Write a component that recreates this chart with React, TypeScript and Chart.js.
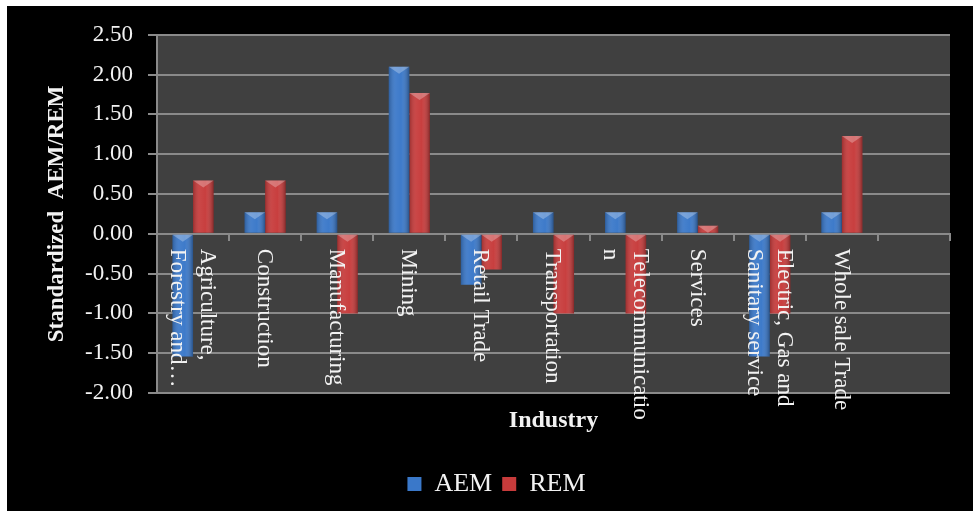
import React, { useEffect, useRef } from "react";
import { Chart, registerables } from "chart.js";

Chart.register(...registerables);

const categoryLines: string[][] = [
  ["Agriculture,", "Forestry and…"],
  ["Construction"],
  ["Manufacturing"],
  ["Mining"],
  ["Retail Trade"],
  ["Transportation"],
  ["Telecommunicatio", "n"],
  ["Services"],
  ["Electric, Gas and", "Sanitary service"],
  ["Whole sale Trade"],
  [""],
];

const aemValues: (number | null)[] = [-1.54, 0.27, 0.27, 2.1, -0.64, 0.27, 0.27, 0.27, -1.54, 0.27, null];
const remValues: (number | null)[] = [0.67, 0.67, -1.0, 1.77, -0.45, -1.0, -1.0, 0.1, -1.0, 1.23, null];

const yMin = -2;
const yMax = 2.5;
const yStep = 0.5;

const FONT = "'Liberation Serif', 'Times New Roman', serif";
const GRID = "#8a8a8a";
const TEXT = "#f2f2f2";

const plotBg = {
  id: "plotBg",
  beforeDraw(chart: any) {
    const { ctx, chartArea: a } = chart;
    ctx.save();
    ctx.fillStyle = "#404040";
    ctx.fillRect(a.left, a.top, a.right - a.left, a.bottom - a.top);
    ctx.restore();
  },
};

const barShading = {
  id: "barShading",
  afterDatasetsDraw(chart: any) {
    const { ctx } = chart;
    ctx.save();
    chart.data.datasets.forEach((_: any, di: number) => {
      const meta = chart.getDatasetMeta(di);
      meta.data.forEach((bar: any, i: number) => {
        const v = chart.data.datasets[di].data[i];
        if (v === null || v === undefined) return;
        const { x, y, base, width } = bar.getProps(["x", "y", "base", "width"], true);
        const left = x - width / 2;
        const top = Math.min(y, base);
        const h = Math.abs(base - y);
        const g = ctx.createLinearGradient(left, 0, left + width, 0);
        g.addColorStop(0, "rgba(0,0,0,0.22)");
        g.addColorStop(0.35, "rgba(255,255,255,0.06)");
        g.addColorStop(0.6, "rgba(255,255,255,0.02)");
        g.addColorStop(1, "rgba(0,0,0,0.32)");
        ctx.fillStyle = g;
        ctx.fillRect(left, top, width, h);
        const th = Math.min(7, h);
        ctx.beginPath();
        ctx.moveTo(left, top);
        ctx.lineTo(left + width, top);
        ctx.lineTo(x, top + th);
        ctx.closePath();
        ctx.fillStyle = "rgba(255,255,255,0.28)";
        ctx.fill();
      });
    });
    ctx.restore();
  },
};

const rotatedLabels = {
  id: "rotatedLabels",
  afterDatasetsDraw(chart: any) {
    const { ctx } = chart;
    const xs = chart.scales.x;
    const ys = chart.scales.y;
    const y0 = ys.getPixelForValue(0);
    ctx.save();
    ctx.font = `23px ${FONT}`;
    ctx.fillStyle = TEXT;
    ctx.textAlign = "left";
    ctx.textBaseline = "middle";
    categoryLines.forEach((lines, i) => {
      const cx = xs.getPixelForValue(i);
      lines.forEach((t, j) => {
        const off = ((lines.length - 1) / 2 - j) * 30;
        ctx.save();
        ctx.translate(cx + off - 1, y0 + 15);
        ctx.rotate(Math.PI / 2);
        ctx.fillText(t, 0, 0);
        ctx.restore();
      });
    });
    ctx.restore();
  },
};

export default function App() {
  const ref = useRef<HTMLCanvasElement | null>(null);

  useEffect(() => {
    if (!ref.current) return;
    const labels = categoryLines.map((l) => l.join(" "));
    const chart = new Chart(ref.current, {
      type: "bar",
      data: {
        labels,
        datasets: [
          {
            label: "AEM",
            data: aemValues,
            backgroundColor: "#3a78c9",
            borderWidth: 0,
            xAxisID: "x",
            yAxisID: "y",
            categoryPercentage: 0.57,
            barPercentage: 1.0,
          },
          {
            label: "REM",
            data: remValues,
            backgroundColor: "#c73b3b",
            borderWidth: 0,
            xAxisID: "x",
            yAxisID: "y",
            categoryPercentage: 0.57,
            barPercentage: 1.0,
          },
        ],
      },
      options: {
        animation: false,
        responsive: false,
        maintainAspectRatio: false,
        layout: { padding: { left: 36, right: 23, top: 26, bottom: 4 } },
        plugins: {
          legend: {
            display: true,
            position: "bottom",
            labels: {
              color: TEXT,
              font: { family: FONT, size: 26 },
              boxWidth: 14,
              boxHeight: 14,
              padding: 10,
            },
          },
          tooltip: { enabled: false },
        },
        scales: {
          x: {
            axis: "x",
            type: "category",
            position: { y: 0 } as any,
            offset: true,
            ticks: { display: false },
            grid: {
              display: true,
              drawOnChartArea: false,
              drawTicks: true,
              tickLength: 6,
              color: GRID,
              lineWidth: 2,
              offset: true,
            },
            border: { display: true, color: GRID, width: 2 },
          },
          x2: {
            axis: "x",
            type: "category",
            position: "bottom",
            offset: true,
            ticks: { display: false },
            grid: { display: false },
            border: { display: false },
            title: {
              display: true,
              text: "Industry",
              color: TEXT,
              font: { family: FONT, size: 24, weight: "bold" },
              padding: { top: 0, bottom: 26 },
            },
            afterFit(s: any) {
              s.height = 68;
            },
          },
          y: {
            min: yMin,
            max: yMax,
            ticks: {
              stepSize: yStep,
              callback: (v: any) => Number(v).toFixed(2),
              color: TEXT,
              font: { family: FONT, size: 23 },
              padding: 15,
            },
            grid: { color: GRID, lineWidth: 2, tickLength: 9 },
            border: { display: true, color: GRID, width: 2 },
            title: {
              display: true,
              text: "Standardized  AEM/REM",
              color: TEXT,
              font: { family: FONT, size: 23, weight: "bold" },
              padding: { top: 0, bottom: 0 },
            },
            afterFit(s: any) {
              s.width = 114;
            },
          },
        },
      },
      plugins: [plotBg, barShading, rotatedLabels],
    });
    return () => chart.destroy();
  }, []);

  return (
    <div
      style={{
        position: "absolute",
        left: 7,
        top: 6,
        width: 966,
        height: 505,
        background: "#000",
      }}
    >
      <canvas ref={ref} width={966} height={505} style={{ display: "block" }} />
    </div>
  );
}
